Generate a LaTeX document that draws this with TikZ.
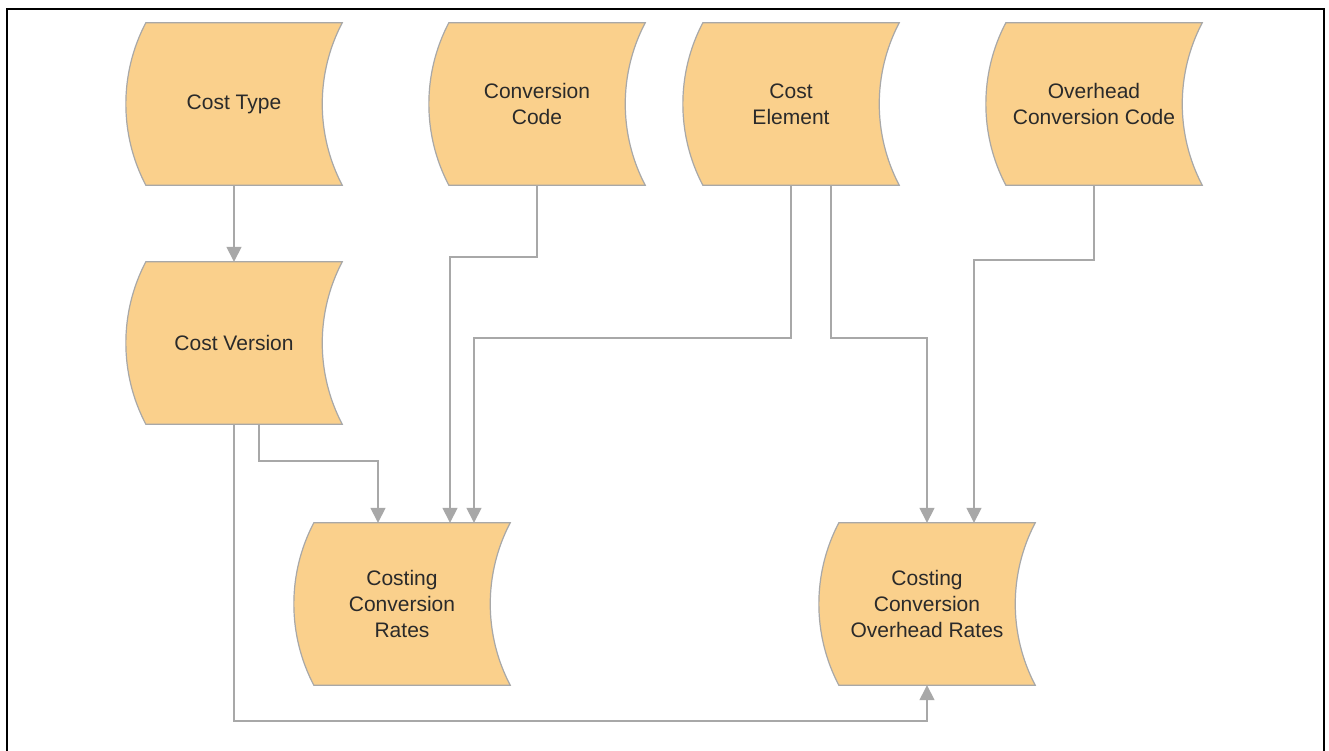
\documentclass[tikz,border=0pt]{standalone}
\usepackage{fontspec}
\setmainfont{Liberation Sans}
\usetikzlibrary{arrows.meta}
\definecolor{boxfill}{HTML}{FAD08C}
\definecolor{boxline}{HTML}{A8A8A8}
\definecolor{conn}{HTML}{A8A8A8}
\definecolor{txt}{HTML}{2A2A2A}
\tikzset{
  store/.style={minimum width=216pt, minimum height=162pt, inner sep=0pt,
    align=center, text=txt, font=\fontsize{21pt}{26pt}\selectfont},
  storeshape/.style={fill=boxfill, draw=boxline, line width=1.2pt},
  link/.style={draw=conn, line width=1.5pt,
    -{Triangle[width=15pt,length=15pt]}},
}
\newcommand{\drawstore}[1]{%
  \path[storeshape]
    ([xshift=20pt]#1.north west) -- (#1.north east)
    .. controls ([xshift=-26.6pt,yshift=-50.7pt]#1.north east)
       and ([xshift=-26.6pt,yshift=50.7pt]#1.south east) .. (#1.south east)
    -- ([xshift=20pt]#1.south west)
    .. controls ([xshift=-6.6pt,yshift=50.7pt]#1.south west)
       and ([xshift=-6.6pt,yshift=-50.7pt]#1.north west) .. ([xshift=20pt]#1.north west)
    -- cycle;}
\begin{document}
\begin{tikzpicture}[x=1pt,y=-1pt]
\useasboundingbox (0,0) rectangle (1329,751);
\fill[white] (0,0) rectangle (1329,751);
\draw[black, line width=2.2pt] (7,9) rectangle (1324,780);

% node placeholders (shapes drawn first, then text on top)
\path
  (234,104) node[store] (ct) {}
  (537,104) node[store] (cc) {}
  (791,104) node[store] (ce) {}
  (1094,104) node[store] (oc) {}
  (234,343) node[store] (cv) {}
  (402,604) node[store] (ccr) {}
  (927,604) node[store] (cor) {};

\drawstore{ct}\drawstore{cc}\drawstore{ce}\drawstore{oc}
\drawstore{cv}\drawstore{ccr}\drawstore{cor}

\node[store] at (ct) {Cost Type};
\node[store] at (cc) {Conversion\\Code};
\node[store] at (ce) {Cost\\Element};
\node[store] at (oc) {Overhead\\Conversion Code};
\node[store] at (cv) {Cost Version};
\node[store] at (ccr) {Costing\\Conversion\\Rates};
\node[store] at (cor) {Costing\\Conversion\\Overhead Rates};

% connectors
\draw[link] (ct.south) -- (cv.north);
\draw[link] (cc.south) -- ++(0,72) -| ([xshift=48pt]ccr.north);
\draw[link] (ce.south) -- ++(0,153) -| ([xshift=72pt]ccr.north);
\draw[link] ([xshift=40pt]ce.south) -- ++(0,153) -| (cor.north);
\draw[link] (oc.south) -- ++(0,75) -| ([xshift=47pt]cor.north);
\draw[link] ([xshift=25pt]cv.south) -- ++(0,37) -| ([xshift=-24pt]ccr.north);
\draw[link] (cv.south) -- ++(0,297) -| (cor.south);
\end{tikzpicture}
\end{document}
